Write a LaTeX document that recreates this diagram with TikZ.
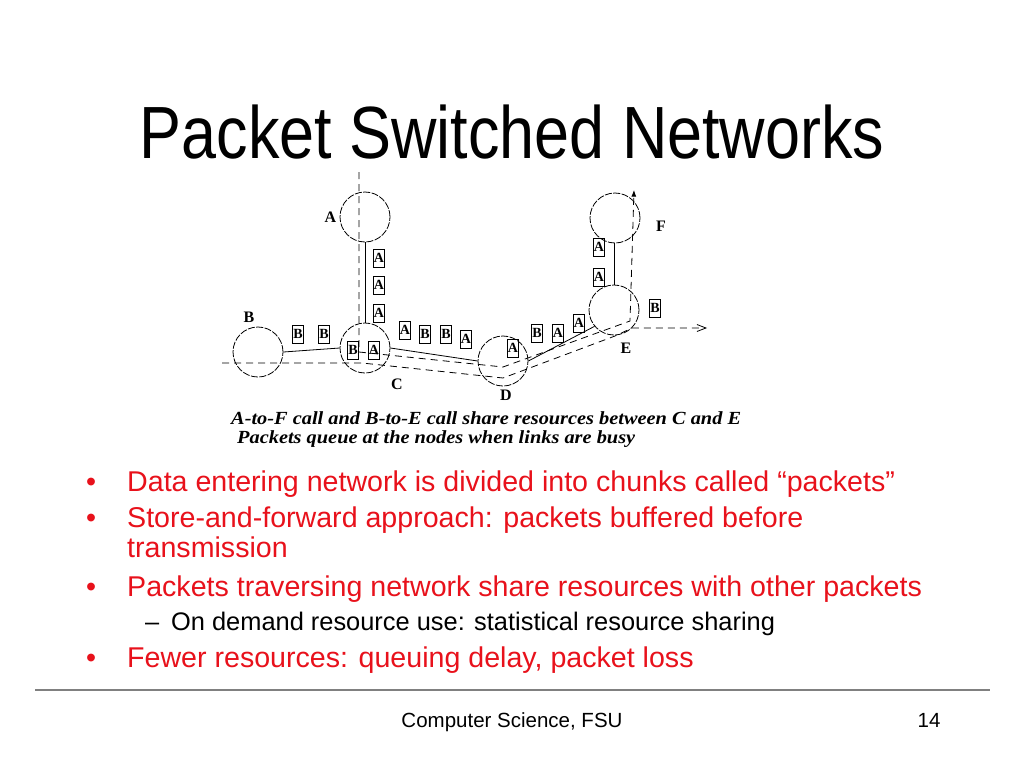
\documentclass[tikz,border=0pt]{standalone}
\usepackage{fontspec}
\setmainfont{Liberation Sans}
\newfontfamily\figfont{Liberation Serif}
\usetikzlibrary{arrows.meta}
\definecolor{BulletRed}{HTML}{E8111B}
\definecolor{RuleGray}{HTML}{808080}

\begin{document}
\begin{tikzpicture}[x=1pt, y=-1pt, >=Latex,
  router/.style={circle, draw, line width=0.8pt, dash pattern=on 7pt off 1.5pt,
    minimum size=50pt, inner sep=0pt},
  packet/.style={draw, line width=0.7pt, minimum width=11pt, minimum height=18pt,
    inner sep=0pt, font=\figfont\bfseries\fontsize{14}{14}\selectfont},
  tag/.style={font=\figfont\bfseries\fontsize{16}{16}\selectfont},
  link/.style={line width=0.8pt},
  route/.style={line width=0.8pt, dash pattern=on 7pt off 5pt},
  caption/.style={anchor=base west, inner sep=0pt, xscale=1.1,
    font=\figfont\bfseries\itshape\fontsize{18.5}{18.5}\selectfont},
  bullet/.style={anchor=base west, inner sep=0pt, text=BulletRed,
    font=\fontsize{28.6}{28.6}\selectfont}]
  \useasboundingbox (0,0) rectangle (1024,768);

  \node[anchor=base, xscale=0.85, font=\fontsize{74}{74}\selectfont] (title) at (512,158)
    {Packet Switched Networks};

  % routers
  \node[router] (A) at (365,217) {};
  \node[router] (B) at (258,352) {};
  \node[router] (C) at (365,348) {};
  \node[router] (D) at (503,361) {};
  \node[router] (E) at (614,310) {};
  \node[router] (F) at (615,218) {};
  \node[tag, anchor=east] (labA) at (A.west) {A};
  \node[tag] (labB) at (249,317) {B};
  \node[tag] (labC) at (397,384) {C};
  \node[tag] (labD) at (506,395) {D};
  \node[tag] (labE) at (626,348) {E};
  \node[tag] (labF) at (661,226) {F};

  % links
  \draw[link] (A.south) -- (C.north);
  \draw[link] (B.east) -- (C.west);
  \draw[link] (C.east) -- (D.west);
  \draw[link] (D.east) -- (E.220);
  \draw[link] (E.north) -- (E.north |- F.south);

  % the two calls
  \coordinate (AFstart) at (359,172);
  \coordinate (AFend) at (634,190);
  \coordinate (BEstart) at (222,363);
  \coordinate (BEend) at (707,328);
  \draw[route, ->] (AFstart) -- (359,352) -- (503,367) -- (630,321) -- (AFend);
  \draw[route, -{Straight Barb[length=9pt, width=7pt]}]
    (BEstart) -- (362,363) -- (503,378) -- (615,336) -- (632,328) -- (BEend);

  % packets
  \node[packet] (pA1) at (379,258) {A};
  \node[packet] (pA2) at (379,285) {A};
  \node[packet] (pA3) at (379,313) {A};
  \node[packet] (pB1) at (298,334) {B};
  \node[packet] (pB2) at (324,334) {B};
  \node[packet] (pB3) at (353,350) {B};
  \node[packet] (pA4) at (374,350) {A};
  \node[packet] (pA5) at (405,330) {A};
  \node[packet] (pB4) at (425,334) {B};
  \node[packet] (pB5) at (446,334) {B};
  \node[packet] (pA6) at (466,339) {A};
  \node[packet] (pA7) at (513,348) {A};
  \node[packet] (pB6) at (537,333) {B};
  \node[packet] (pA8) at (558,333) {A};
  \node[packet] (pA9) at (579,323) {A};
  \node[packet] (pA10) at (599,247) {A};
  \node[packet] (pA11) at (599,277) {A};
  \node[packet] (pB7) at (655,308) {B};

  \node[caption] (cap1) at (231,424) {A-to-F call and B-to-E call share resources between C and E};
  \node[caption] (cap2) at (237,443) {Packets queue at the nodes when links are busy};

  % bullets
  \foreach \y/\txt in {491/{Data entering network is divided into chunks called “packets”},
                       527/{Store-and-forward approach: packets buffered before},
                       596/{Packets traversing network share resources with other packets},
                       667/{Fewer resources: queuing delay, packet loss}} {
    \node[bullet] at (86,\y) {•};
    \node[bullet] at (127,\y) {\txt};
  }
  \node[bullet] (cont) at (127,557) {transmission};
  \node[anchor=base west, inner sep=0pt, font=\fontsize{25.4}{25.4}\selectfont] (dash) at (145,630) {–};
  \node[anchor=base west, inner sep=0pt, font=\fontsize{25.4}{25.4}\selectfont] (sub) at (171,630)
    {On demand resource use: statistical resource sharing};

  \draw[RuleGray, line width=1.5pt] (35,690) -- (990,690);
  \node[anchor=base, font=\fontsize{20.5}{20.5}\selectfont] (foot) at (512,727) {Computer Science, FSU};
  \node[anchor=base, font=\fontsize{20.5}{20.5}\selectfont] (page) at (929,727) {14};
\end{tikzpicture}
\end{document}
